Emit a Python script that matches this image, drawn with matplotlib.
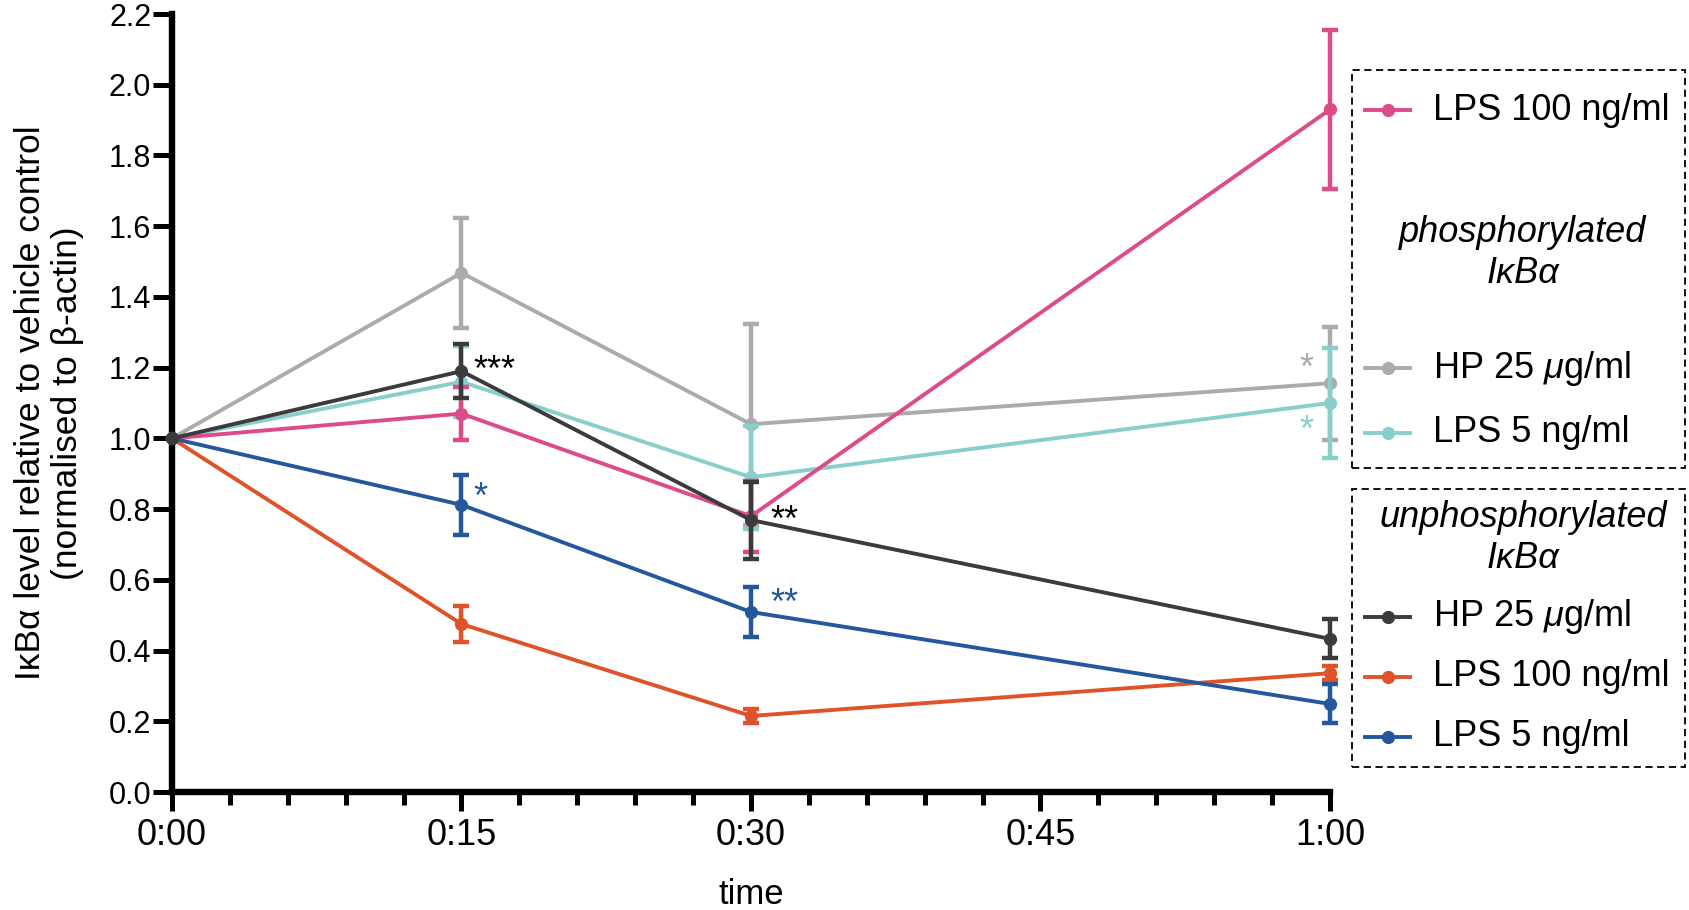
import matplotlib.pyplot as plt
import numpy as np
from matplotlib.lines import Line2D
from matplotlib.patches import Rectangle

plt.rcParams['font.family'] = ['Liberation Sans', 'DejaVu Sans']
plt.rcParams['mathtext.fontset'] = 'custom'
plt.rcParams['mathtext.it'] = 'Liberation Sans:italic'

# time points (minutes)
times = [0, 15, 30, 60]

# phosphorylated IkBa
p_lps100 = [1.0, 1.07, 0.78, 1.93]
p_lps100_err = [0, 0.074, 0.10, 0.225]
p_hp25 = [1.0, 1.468, 1.04, 1.156]
p_hp25_err = [0, 0.155, 0.284, 0.16]
p_lps5 = [1.0, 1.16, 0.89, 1.10]
p_lps5_err = [0, 0.10, 0.146, 0.155]

# unphosphorylated IkBa
u_hp25 = [1.0, 1.19, 0.769, 0.433]
u_hp25_err = [0, 0.077, 0.109, 0.055]
u_lps100 = [1.0, 0.475, 0.215, 0.336]
u_lps100_err = [0, 0.05, 0.02, 0.02]
u_lps5 = [1.0, 0.812, 0.509, 0.249]
u_lps5_err = [0, 0.085, 0.072, 0.055]

c_pink = '#DD4B8A'
c_gray = '#ABABAB'
c_teal = '#88CFCC'
c_dark = '#3B3B3D'
c_orange = '#E0522A'
c_blue = '#24579C'

fig = plt.figure(figsize=(16.9, 9.1), dpi=100)
ax = fig.add_axes([172/1690, 1 - 792/910, (1330 - 172)/1690, (792 - 14)/910])

series = [
    (p_hp25, p_hp25_err, c_gray),
    (p_lps5, p_lps5_err, c_teal),
    (p_lps100, p_lps100_err, c_pink),
    (u_lps100, u_lps100_err, c_orange),
    (u_lps5, u_lps5_err, c_blue),
    (u_hp25, u_hp25_err, c_dark),
]
for i, (y, e, c) in enumerate(series):
    ax.errorbar(times, y, yerr=e, color=c, lw=2.8, marker='o', ms=8.5,
                capsize=6, capthick=3.2, elinewidth=3.2, errorevery=(1, 1),
                zorder=2 + i, clip_on=False)

# significance stars
ax.text(15.6, 1.19, '***', color='black', fontsize=26, ha='left', va='center')
ax.text(15.6, 0.83, '*', color=c_blue, fontsize=26, ha='left', va='center')
ax.text(31.0, 0.765, '**', color='black', fontsize=26, ha='left', va='center')
ax.text(31.0, 0.53, '**', color=c_blue, fontsize=26, ha='left', va='center')
ax.text(58.8, 1.195, '*', color=c_gray, fontsize=26, ha='center', va='center')
ax.text(58.8, 1.02, '*', color=c_teal, fontsize=26, ha='center', va='center')

ax.set_xlim(0, 60)
ax.set_ylim(0, 2.2)
ax.set_xticks([0, 15, 30, 45, 60])
ax.set_xticklabels(['0:00', '0:15', '0:30', '0:45', '1:00'], fontsize=26)
ax.set_xticks(np.arange(0, 61, 3), minor=True)
ax.set_yticks(np.arange(0, 2.21, 0.2))
ax.set_yticklabels(['%.1f' % v for v in np.arange(0, 2.21, 0.2)], fontsize=22)

for s in ['top', 'right']:
    ax.spines[s].set_visible(False)
for s in ['left', 'bottom']:
    ax.spines[s].set_linewidth(4.6)
ax.tick_params(which='major', length=14, width=3.6, direction='out')
ax.tick_params(which='minor', length=9.5, width=3.6, direction='out')
ax.tick_params(axis='x', pad=5)
ax.tick_params(axis='y', pad=1)

ax.set_xlabel('time', fontsize=25, labelpad=18)
ax.set_ylabel('IκBα level relative to vehicle control\n(normalised to β-actin)',
              fontsize=25.5, labelpad=18, linespacing=1.15)

# legend boxes (drawn by hand, pixel layout of the figure)
W, H = 1690, 910


def fx(px):
    return px / W


def fy(py):
    return 1 - py / H


for top, bot in [(70, 468), (489, 767)]:
    fig.add_artist(Rectangle((fx(1352), fy(bot)), fx(1685) - fx(1352), fy(top) - fy(bot),
                             transform=fig.transFigure, fill=False, ec='black',
                             lw=1.3, ls=(0, (4, 2.5))))

entries = [
    (110, c_pink, 'LPS 100 ng/ml'),
    (368, c_gray, r'HP 25 $\mathit{\mu}$g/ml'),
    (433, c_teal, 'LPS 5 ng/ml'),
    (617, c_dark, r'HP 25 $\mathit{\mu}$g/ml'),
    (677, c_orange, 'LPS 100 ng/ml'),
    (737, c_blue, 'LPS 5 ng/ml'),
]
for py, c, label in entries:
    fig.add_artist(Line2D([fx(1365), fx(1410)], [fy(py), fy(py)], color=c, lw=2.8,
                          transform=fig.transFigure))
    fig.add_artist(Line2D([fx(1388)], [fy(py)], color=c, marker='o', ms=8.5,
                          transform=fig.transFigure))
    fig.text(fx(1433), fy(py), label, fontsize=26, ha='left', va='center')

fig.text(fx(1523), fy(253), 'phosphorylated\nIκBα', fontsize=26, style='italic',
         ha='center', va='center', linespacing=1.25)
fig.text(fx(1523), fy(538), 'unphosphorylated\nIκBα', fontsize=26, style='italic',
         ha='center', va='center', linespacing=1.25)

fig.savefig('out.png', dpi=100)
